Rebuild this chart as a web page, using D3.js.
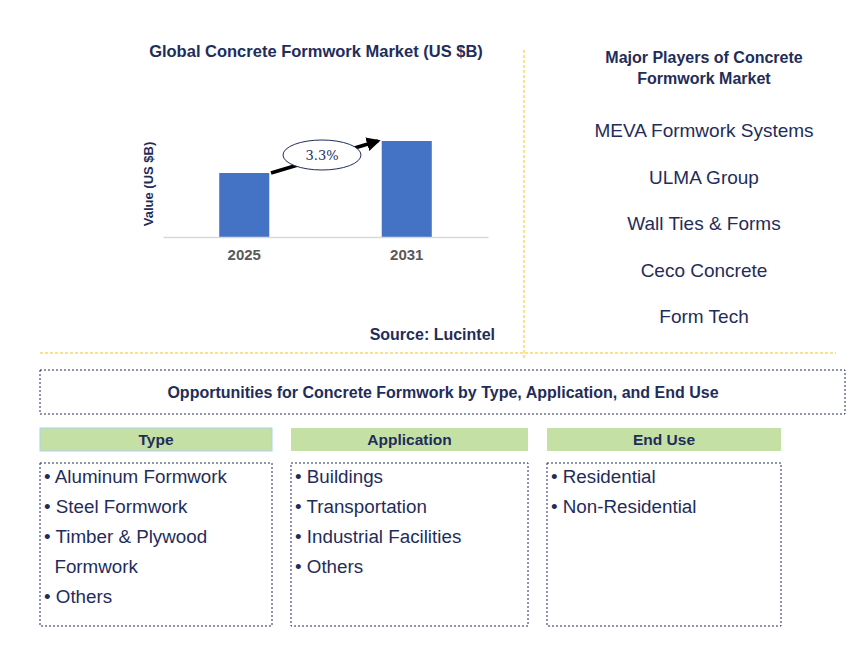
<!DOCTYPE html><html><head><meta charset="utf-8"><script src="https://cdn.jsdelivr.net/npm/d3@7"></script>
<style>body{margin:0;background:#fff}svg{font-family:Arial,"Liberation Sans",sans-serif}</style></head><body><svg width="863" height="659"></svg>
<script>
const years=["2025","2031"];
const values=[2.0,3.0];
const cagr="3.3%";
const players=["MEVA Formwork Systems","ULMA Group","Wall Ties & Forms","Ceco Concrete","Form Tech"];
const headers=["Type","Application","End Use"];
const typeItems=["• Aluminum Formwork","• Steel Formwork","• Timber & Plywood","  Formwork","• Others"];
const appItems=["• Buildings","• Transportation","• Industrial Facilities","• Others"];
const endItems=["• Residential","• Non-Residential"];
const svg=d3.select("svg");
const navy="#1f2d5a";
svg.append("text").attr("x",316).attr("y",57).attr("text-anchor","middle").attr("font-size",16.5).attr("font-weight","bold").attr("fill",navy).text("Global Concrete Formwork Market (US $B)");
const x=d3.scaleBand().domain(years).range([163,488]).paddingInner(0.692).paddingOuter(0.346);
const y=d3.scaleLinear().domain([0,3]).range([237,141]);
svg.selectAll("rect.bar").data(values).join("rect").attr("class","bar").attr("x",(d,i)=>x(years[i])).attr("width",x.bandwidth()).attr("y",d=>y(d)).attr("height",d=>y(0)-y(d)).attr("fill","#4472c4");
const ax=svg.append("g").attr("transform","translate(0,237)").call(d3.axisBottom(x).tickSize(0).tickPadding(12));
ax.select(".domain").attr("stroke","#d9d9d9").attr("stroke-width",1.5);
ax.selectAll("text").attr("font-size",15).attr("font-weight","bold").attr("fill","#595959").attr("font-family","Arial,'Liberation Sans',sans-serif");
svg.append("text").attr("transform","translate(153,184) rotate(-90)").attr("text-anchor","middle").attr("font-size",13).attr("font-weight","bold").attr("fill",navy).text("Value (US $B)");
svg.append("defs").append("marker").attr("id","ah").attr("viewBox","0 0 10 10").attr("refX",8).attr("refY",5).attr("markerWidth",4).attr("markerHeight",4).attr("orient","auto").append("path").attr("d","M0,0L10,5L0,10z").attr("fill","#000");
svg.append("line").attr("x1",271).attr("y1",173).attr("x2",378).attr("y2",141).attr("stroke","#000").attr("stroke-width",3.5).attr("marker-end","url(#ah)");
svg.append("ellipse").attr("cx",322).attr("cy",155).attr("rx",39).attr("ry",15).attr("fill","#fff").attr("stroke",navy).attr("stroke-width",1);
svg.append("text").attr("x",322).attr("y",160).attr("text-anchor","middle").attr("font-size",13).attr("font-family","'DejaVu Serif',serif").attr("fill",navy).text(cagr);
svg.append("text").attr("x",495).attr("y",340).attr("text-anchor","end").attr("font-size",16).attr("font-weight","bold").attr("fill",navy).text("Source: Lucintel");
svg.append("line").attr("x1",524).attr("y1",50).attr("x2",524).attr("y2",360).attr("stroke","#f5c518").attr("stroke-dasharray","3,2");
svg.append("line").attr("x1",40).attr("y1",353).attr("x2",836).attr("y2",353).attr("stroke","#f5c518").attr("stroke-dasharray","3,2");
svg.append("text").attr("x",704).attr("y",63).attr("text-anchor","middle").attr("font-size",16).attr("font-weight","bold").attr("fill",navy).text("Major Players of Concrete");
svg.append("text").attr("x",704).attr("y",84).attr("text-anchor","middle").attr("font-size",16).attr("font-weight","bold").attr("fill",navy).text("Formwork Market");
svg.selectAll("text.pl").data(players).join("text").attr("class","pl").attr("x",704).attr("y",(d,i)=>137+i*46.5).attr("text-anchor","middle").attr("font-size",19).attr("fill",navy).text(d=>d);
svg.append("rect").attr("x",40).attr("y",370).attr("width",805).attr("height",44).attr("fill","none").attr("stroke",navy).attr("stroke-dasharray","2,2");
svg.append("text").attr("x",443).attr("y",398).attr("text-anchor","middle").attr("font-size",16).attr("font-weight","bold").attr("fill",navy).text("Opportunities for Concrete Formwork by Type, Application, and End Use");
const cols=[{x:40,w:232,items:typeItems},{x:291,w:237,items:appItems},{x:547,w:234,items:endItems}];
cols.forEach((c,i)=>{
 svg.append("rect").attr("x",c.x).attr("y",428).attr("width",c.w).attr("height",23).attr("fill","#c5e0a5").attr("stroke",i==0?"#a9d3f0":"none");
 svg.append("text").attr("x",c.x+c.w/2).attr("y",445).attr("text-anchor","middle").attr("font-size",15.5).attr("font-weight","bold").attr("fill",navy).text(headers[i]);
 svg.append("rect").attr("x",c.x).attr("y",463).attr("width",c.w).attr("height",163).attr("fill","none").attr("stroke",navy).attr("stroke-dasharray","2,2");
 svg.selectAll(null).data(c.items).join("text").attr("x",c.x+4).attr("y",(d,j)=>483+j*30).attr("font-size",18.8).attr("fill",navy).attr("xml:space","preserve").style("white-space","pre").text(d=>d);
});
</script></body></html>
